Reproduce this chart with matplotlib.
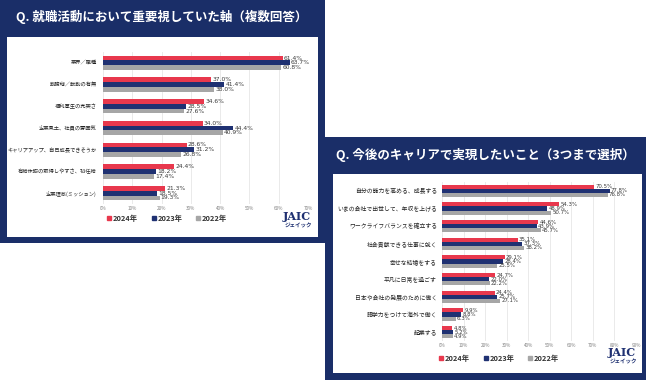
import matplotlib
matplotlib.use('Agg')
import matplotlib.pyplot as plt
from matplotlib.patches import Rectangle, Arc
from matplotlib.lines import Line2D
import numpy as np

plt.rcParams['font.family'] = ['Noto Sans CJK JP', 'DejaVu Sans']

W, H = 650, 380

years = ['2024年', '2023年', '2022年']
colors = ['#e8384d', '#1f3172', '#a6a6a6']
panel_navy = '#1a2e68'

# --- 左: 就職活動において重要視していた軸 ---
left_title = 'Q. 就職活動において重要視していた軸（複数回答）'
left_cats = ['業界／職種', '勤務地／転勤の有無', '福利厚生の充実さ', '企業風土、社員の雰囲気',
             'キャリアアップ、自己成長できそうか', '有給休暇の取得しやすさ、初任給', '企業理念(ミッション)']
left_2024 = [61.4, 37.0, 34.6, 34.0, 28.6, 24.4, 21.3]
left_2023 = [63.7, 41.4, 28.5, 44.4, 31.2, 18.2, 18.5]
left_2022 = [60.8, 38.0, 27.6, 40.9, 26.8, 17.4, 19.3]
left_ticks = [0, 10, 20, 30, 40, 50, 60, 70]

# --- 右: 今後のキャリアで実現したいこと ---
right_title = 'Q. 今後のキャリアで実現したいこと（3つまで選択）'
right_cats = ['自分の能力を高める、成長する', 'いまの会社で出世して、年収を上げる', 'ワークライフバランスを確立する',
              '社会貢献できる仕事に就く', '幸せな結婚をする', '平凡に日常を過ごす',
              '日本や会社の発展のために働く', '語学力をつけて海外で働く', '起業する']
right_2024 = [70.5, 54.3, 44.6, 35.1, 29.1, 24.7, 24.4, 9.9, 4.8]
right_2023 = [77.8, 48.9, 43.9, 37.3, 28.4, 22.0, 25.7, 8.8, 5.2]
right_2022 = [76.8, 50.7, 45.7, 38.2, 25.5, 22.2, 27.1, 6.3, 4.9]
right_ticks = [0, 10, 20, 30, 40, 50, 60, 70, 80, 90]

fig = plt.figure(figsize=(6.5, 3.8), dpi=100)


def px_box(x0, y0, x1, y1):
    return [x0 / W, 1 - y1 / H, (x1 - x0) / W, (y1 - y0) / H]


def rect(x0, y0, x1, y1, color, z):
    b = px_box(x0, y0, x1, y1)
    fig.patches.append(Rectangle((b[0], b[1]), b[2], b[3], transform=fig.transFigure,
                                 facecolor=color, edgecolor='none', zorder=z))


def draw_chart(box, cats, series, ticks, h, fs_cat, fs_val, cat_pad, tick_pad):
    ax = fig.add_axes(px_box(*box))
    ax.set_zorder(10)
    ax.set_facecolor('none')
    y = np.arange(len(cats))
    xmax = ticks[-1]
    for i, (vals, c) in enumerate(zip(series, colors)):
        pos = y + (i - 1) * h
        ax.barh(pos, vals, height=h, color=c, zorder=2)
        for p, v in zip(pos, vals):
            ax.text(v + xmax * 0.006, p, f'{v:.1f}%', va='center', ha='left',
                    fontsize=fs_val, color='#3a3a3a', family='DejaVu Sans', zorder=3)
    ax.set_xlim(0, xmax)
    ax.set_ylim(len(cats) - 0.5, -0.5)
    ax.set_xticks(ticks)
    ax.set_xticklabels([f'{t}%' for t in ticks], fontsize=3.3, color='#808080')
    ax.set_yticks(y)
    ax.set_yticklabels(cats, fontsize=fs_cat, color='#222222')
    ax.tick_params(axis='y', length=0, pad=cat_pad)
    ax.tick_params(axis='x', length=0, pad=tick_pad)
    ax.grid(axis='x', color='#e6e6e6', lw=0.6, zorder=0)
    for s in ax.spines.values():
        s.set_visible(False)
    return ax


def legend(cx, cy, fs, spacing):
    handles = [Line2D([], [], marker='s', ls='', color=c, markersize=2.6) for c in colors]
    leg = fig.legend(handles, years, loc='center', bbox_to_anchor=(cx / W, 1 - cy / H), ncol=3,
                     frameon=False, handletextpad=0.25, columnspacing=spacing,
                     handlelength=0.5, labelcolor='#333333', prop={'weight': 'bold', 'size': fs})
    leg.set_zorder(12)


def logo(cx, cy, fs):
    fig.text(cx / W, 1 - cy / H, 'JAIC', family='DejaVu Serif', fontweight='bold',
             color='#1f3172', fontsize=fs, ha='center', va='center', zorder=12)
    fig.text((cx + 1) / W, 1 - (cy + fs * 1.15) / H, 'ジェイック', color='#1f3172',
             fontsize=fs * 0.5, ha='center', va='center', fontweight='bold', style='italic', zorder=12)
    r = fs * 0.55
    fig.patches.append(Arc(((cx - fs * 0.9) / W, 1 - (cy - fs * 0.1) / H), 2 * r / W, 2 * r / H,
                           theta1=110, theta2=230, color='#e8384d', lw=0.7,
                           transform=fig.transFigure, zorder=12))


# 左パネル
rect(0, 0, 325, 243, panel_navy, 0)
rect(7, 37, 318, 237, 'white', 1)
fig.text(162 / W, 1 - 17 / H, left_title, color='white', fontsize=9, fontweight='bold',
         ha='center', va='center')
draw_chart((103, 52, 308, 204), left_cats, [left_2024, left_2023, left_2022], left_ticks,
           0.22, 3.8, 4.3, 4.5, 1.5)
legend(167, 218, 5.3, 1.9)
logo(297, 217, 8)

# 右パネル
rect(325, 137, 646, 380, panel_navy, 2)
rect(333, 174, 642, 373, 'white', 3)
fig.text(485 / W, 1 - 155 / H, right_title, color='white', fontsize=9, fontweight='bold',
         ha='center', va='center', zorder=4)
draw_chart((442, 182, 636, 341), right_cats, [right_2024, right_2023, right_2022], right_ticks,
           0.23, 4.2, 3.9, 3.6, 1.2)
legend(499, 358, 5.3, 1.9)
logo(622, 353, 8)

fig.savefig('out.png', dpi=100)
